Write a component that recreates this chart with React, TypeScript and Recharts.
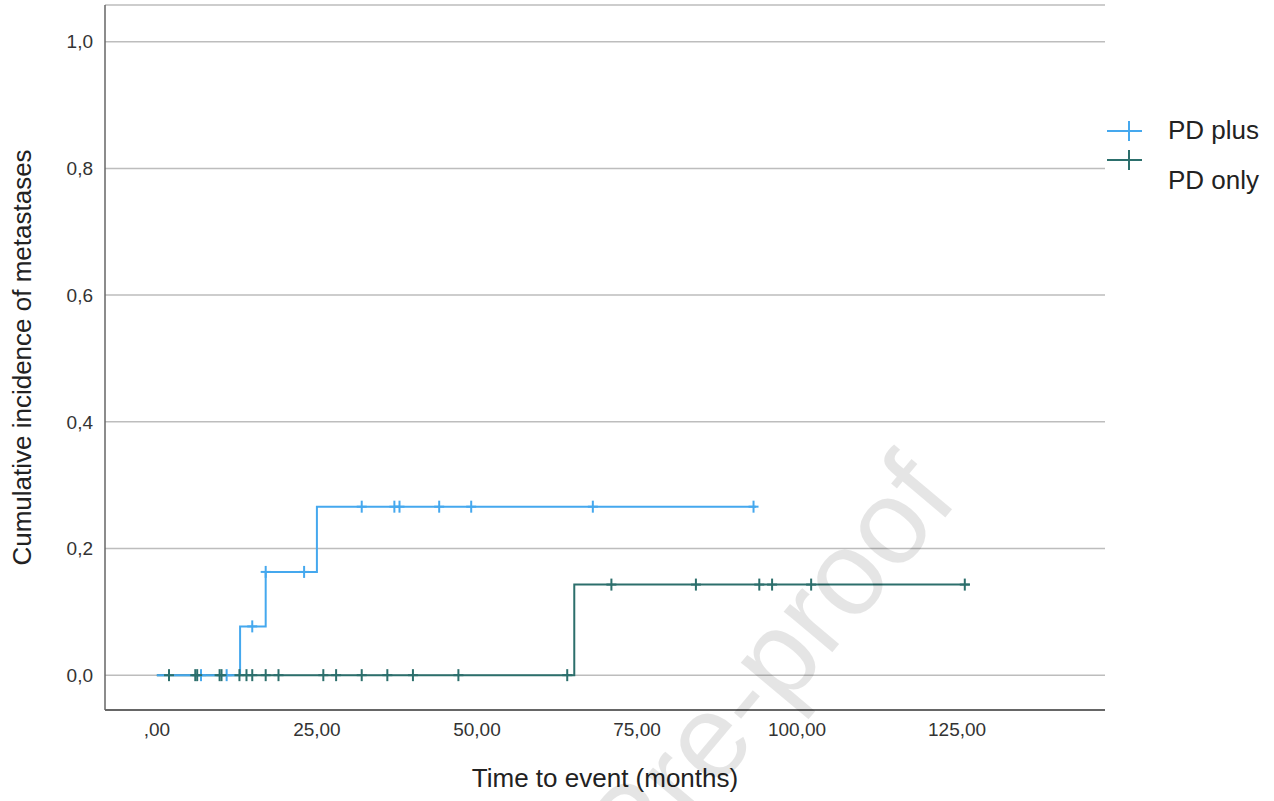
import React from 'react'
import { CartesianGrid, ComposedChart, Legend, Line, Scatter, XAxis, YAxis } from 'recharts'

// step curves (time in months, cumulative incidence)
const plusStepTimes = [0, 13, 17, 25, 93.6]
const plusStepValues = [0, 0.077, 0.163, 0.266, 0.266]
const onlyStepTimes = [0, 65.2, 127]
const onlyStepValues = [0, 0.143, 0.143]

// censored observations
const plusCensorTimes = [6.9, 10.9, 14.9, 17.0, 23.0, 32.0, 37.1, 37.9, 44.1, 49.1, 68.1, 93.2]
const plusCensorValues = [0, 0, 0.077, 0.163, 0.163, 0.266, 0.266, 0.266, 0.266, 0.266, 0.266, 0.266]
const onlyCensorTimes = [1.9, 6.0, 6.3, 9.8, 10.1, 12.9, 14.0, 14.9, 17.0, 19.0, 26.0, 28.0, 32.0, 36.0, 40.0, 47.1, 64.1, 71.0, 84.2, 94.1, 96.1, 102.2, 126.2]
const onlyCensorValues = [0, 0, 0, 0, 0, 0, 0, 0, 0, 0, 0, 0, 0, 0, 0, 0, 0, 0.143, 0.143, 0.143, 0.143, 0.143, 0.143]

const xTicks = [0, 25, 50, 75, 100, 125]
const yTicks = [0, 0.2, 0.4, 0.6, 0.8, 1.0]

const seriesNames = ['PD plus', 'PD only']
const BLUE = '#45a8ee'
const GREEN = '#2c6f6c'
const FONT = '"Liberation Sans", Arial, sans-serif'

const zip = (t: number[], v: number[]) => t.map((x, i) => ({ t: x, v: v[i] }))
const plusSteps = zip(plusStepTimes, plusStepValues)
const onlySteps = zip(onlyStepTimes, onlyStepValues)
const plusCensored = zip(plusCensorTimes, plusCensorValues)
const onlyCensored = zip(onlyCensorTimes, onlyCensorValues)

const cross = (color: string) => (props: any) => {
  const { cx, cy } = props
  return (
    <g stroke={color} strokeWidth={2}>
      <line x1={cx - 5} y1={cy} x2={cx + 5} y2={cy} />
      <line x1={cx} y1={cy - 6} x2={cx} y2={cy + 6} />
    </g>
  )
}

const YTitle = (props: any) => {
  const { viewBox } = props
  const cx = viewBox.x + 22
  const cy = viewBox.y + viewBox.height / 2
  return (
    <text x={cx} y={cy} transform={`rotate(-90 ${cx} ${cy})`} textAnchor="middle" dominantBaseline="central"
      fontSize={26} fontFamily={FONT} fill="#222">
      Cumulative incidence of metastases
    </text>
  )
}

const XTitle = (props: any) => {
  const { viewBox } = props
  return (
    <text x={viewBox.x + viewBox.width / 2} y={viewBox.y + 68} textAnchor="middle" dominantBaseline="central"
      fontSize={26} fontFamily={FONT} fill="#222">
      Time to event (months)
    </text>
  )
}

const LegendBox = () => {
  const colors = [BLUE, GREEN]
  const lineY = [19, 48]
  const textY = [27, 77]
  return (
    <svg width={169} height={90}>
      {seriesNames.map((name, i) => (
        <g key={name}>
          <g stroke={colors[i]} strokeWidth={2}>
            <line x1={2} y1={lineY[i]} x2={37} y2={lineY[i]} />
            <line x1={24} y1={lineY[i] - 10} x2={24} y2={lineY[i] + 10} />
          </g>
          <text x={63} y={textY[i]} fontSize={26} fontFamily={FONT} fill="#222">{name}</text>
        </g>
      ))}
    </svg>
  )
}

function App() {
  return (
    <div style={{ position: 'absolute', left: 0, top: 0, width: 1274, height: 801, background: '#fff' }}>
      <ComposedChart width={1274} height={801} margin={{ top: 5, right: 0, bottom: 0, left: 0 }}>
        <CartesianGrid vertical={false} stroke="#bdbdbd" strokeWidth={1.5} />
        <XAxis
          dataKey="t"
          type="number"
          domain={[-8.1, 148.1]}
          ticks={xTicks}
          allowDataOverflow
          height={91}
          tickLine={false}
          tickSize={0}
          tickMargin={13}
          axisLine={{ stroke: '#666', strokeWidth: 2 }}
          tick={{ fill: '#333', fontSize: 19, fontFamily: FONT }}
          tickFormatter={(v: number) => (v === 0 ? ',00' : `${v},00`)}
          label={<XTitle />}
        />
        <YAxis
          type="number"
          domain={[-0.055, 1.058]}
          ticks={yTicks}
          allowDataOverflow
          width={105}
          tickLine={false}
          tickSize={0}
          tickMargin={12}
          axisLine={{ stroke: '#666', strokeWidth: 1.5 }}
          tick={{ fill: '#333', fontSize: 19, fontFamily: FONT }}
          tickFormatter={(v: number) => v.toFixed(1).replace('.', ',')}
          label={<YTitle />}
        />
        <Line data={onlySteps} dataKey="v" type="stepAfter" stroke={GREEN} strokeWidth={2} dot={false} isAnimationActive={false} />
        <Line data={plusSteps} dataKey="v" type="stepAfter" stroke={BLUE} strokeWidth={2} dot={false} isAnimationActive={false} />
        <Scatter data={plusCensored} dataKey="v" shape={cross(BLUE)} isAnimationActive={false} />
        <Scatter data={onlyCensored} dataKey="v" shape={cross(GREEN)} isAnimationActive={false} />
        <Legend
          layout="horizontal"
          verticalAlign="middle"
          align="right"
          wrapperStyle={{ position: 'absolute', left: 1105, top: 112, width: 169, height: 90 }}
          content={<LegendBox />}
        />
      </ComposedChart>
      <svg width={1274} height={801} style={{ position: 'absolute', left: 0, top: 0, pointerEvents: 'none' }}>
        <text x={960} y={500} textAnchor="end" transform="rotate(-50 960 500)" fontSize={120}
          fontFamily={FONT} fill="#000" fillOpacity={0.1}>
          Journal Pre-proof
        </text>
      </svg>
    </div>
  )
}

export default App
